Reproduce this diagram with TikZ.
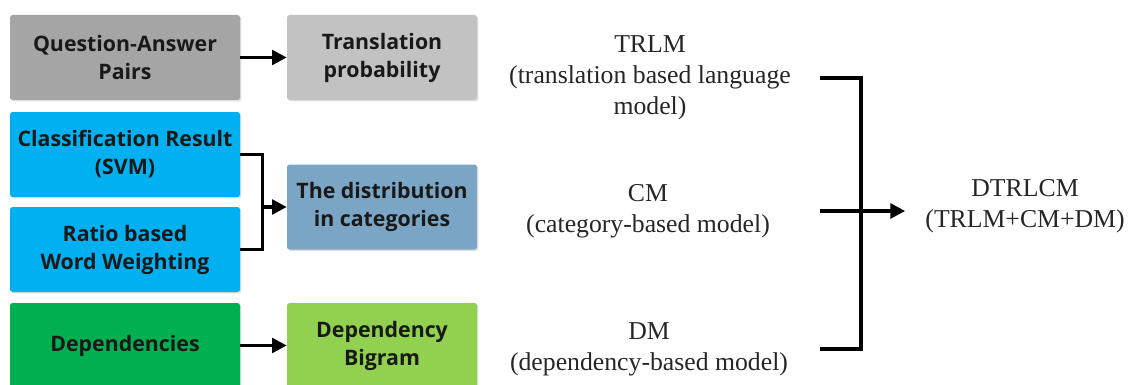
\documentclass[tikz,border=0pt]{standalone}
\usepackage{fontspec}
\setmainfont{Liberation Serif}
\newfontfamily\boxfont{Open Sans}
\usetikzlibrary{arrows.meta,shadows}
\definecolor{qagray}{HTML}{A5A5A5}
\definecolor{trgray}{HTML}{C2C2C2}
\definecolor{clsblue}{HTML}{00B0F0}
\definecolor{distblue}{HTML}{7AA5C5}
\definecolor{depgreen}{HTML}{00B050}
\definecolor{bigreen}{HTML}{92D050}
\tikzset{
    inbox/.style={rectangle,rounded corners=2pt,minimum width=172.5pt,minimum height=63.75pt,
        align=center,text=black!90,font=\boxfont\bfseries\fontsize{16}{21}\selectfont,
        drop shadow={shadow xshift=1pt,shadow yshift=-1pt,opacity=.25}},
    outbox/.style={inbox,minimum width=142.5pt},
    model/.style={align=center,inner sep=0pt,text=black!85,font=\fontsize{19.3}{23.3}\selectfont},
    link/.style={line width=2.5pt},
    arr/.style={link,-{Triangle[length=11pt,width=11pt]}}
}
\begin{document}
\begin{tikzpicture}[x=.75pt,y=-.75pt]
        \useasboundingbox (0,0) rectangle (1128,385);
        % inputs
        \node[inbox,fill=qagray] (qa) at (125,57.5) {Question-Answer\\Pairs};
        \node[inbox,fill=clsblue] (cls) at (125,154.5) {Classification Result\\(SVM)};
        \node[inbox,fill=clsblue] (ratio) at (125,249.5) {Ratio based\\Word Weighting};
        \node[inbox,fill=depgreen] (dep) at (125,345.5) {Dependencies};
        % features
        \node[outbox,fill=trgray] (trans) at (382,57.5) {Translation\\probability};
        \node[outbox,fill=distblue] (dist) at (382,207) {The distribution\\in categories};
        \node[outbox,fill=bigreen] (bigram) at (382,345.5) {Dependency\\Bigram};
        % models
        \node[model] (trlm) at (650,78) {TRLM\\(translation based language\\model)};
        \node[model] (cm) at (648,211) {CM\\(category-based model)};
        \node[model] (dm) at (649,349) {DM\\(dependency-based model)};
        \node[model,inner xsep=15pt] (dtrlcm) at (1025,206) {DTRLCM\\(TRLM+CM+DM)};
        \coordinate (brk) at (820,0);
        \coordinate (jn) at (861,0);
        \draw[arr] (qa) -- (trans);
        \draw[arr] (dep) -- (bigram);
        \draw[link] (cls.east) -| ([xshift=-18pt]dist.west) |- (ratio.east);
        \draw[arr] ([xshift=-19.2pt]dist.west) -- (dist.west);
        \draw[link] (trlm.east -| brk) -| (dm.east -| jn) -- (dm.east -| brk);
        \draw[arr] (cm.east -| brk) -- (cm.east -| dtrlcm.west);
    \end{tikzpicture}
\end{document}
